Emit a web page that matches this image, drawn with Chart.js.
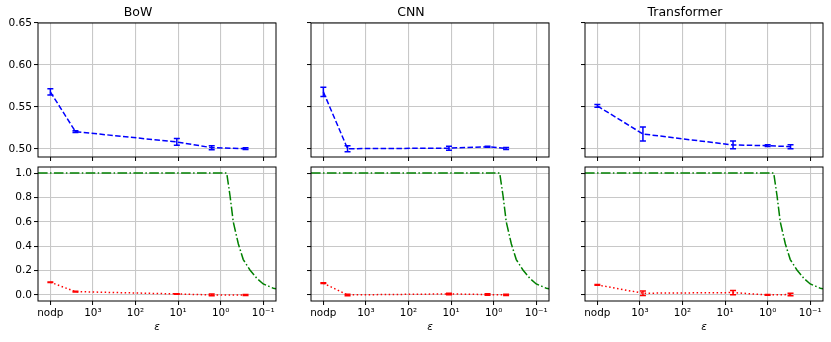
<!DOCTYPE html>
<html lang="en">
<head>
<meta charset="UTF-8">
<title>Accuracy and leakage vs epsilon</title>
<script src="https://cdn.jsdelivr.net/npm/chart.js"></script>
<style>
  body { margin: 0; background: #fff; }
  #fig { position: relative; width: 831px; height: 342px; overflow: hidden; }
  #fig canvas { position: absolute; }
</style>
</head>
<body>
<div id="fig"></div>
<script>
const models = ['BoW', 'CNN', 'Transformer'];
const NODP = 1e4; // the no-DP run sits one decade left of 10^3

const epsTicks = [1e4, 1e3, 1e2, 1e1, 1e0, 1e-1];
const epsTickLabels = ['nodp', '10³', '10²', '10¹', '10⁰', '10⁻¹'];
const accTicks = [0.50, 0.55, 0.60, 0.65];
const leakTicks = [0, 0.2, 0.4, 0.6, 0.8, 1.0];

const bowEps = [NODP, 2570, 10.7, 1.62, 0.26];
const bowAcc = [0.568, 0.5207, 0.5084, 0.5016, 0.5004];
const bowAccErr = [0.0036, 0.001, 0.004, 0.0024, 0.001];
const bowLeak = [0.104, 0.027, 0.008, 0.0, 0.0];
const bowLeakErr = [0.002, 0.003, 0.002, 0.007, 0.004];

const cnnEps = [NODP, 2700, 11.2, 1.39, 0.51];
const cnnAcc = [0.568, 0.5004, 0.501, 0.5027, 0.5006];
const cnnAccErr = [0.0056, 0.0036, 0.0024, 0.0005, 0.0012];
const cnnLeak = [0.096, 0.0, 0.008, 0.003, 0.0];
const cnnLeakErr = [0.003, 0.006, 0.006, 0.006, 0.005];

const trfEps = [NODP, 850, 6.5, 1.0, 0.29];
const trfAcc = [0.5513, 0.5179, 0.5048, 0.504, 0.5028];
const trfAccErr = [0.0016, 0.0084, 0.0046, 0.001, 0.0024];
const trfLeak = [0.082, 0.014, 0.019, 0.0, 0.003];
const trfLeakErr = [0.003, 0.019, 0.017, 0.003, 0.01];

// green bound curve, same in every panel
const boundEps = [19500, 0.72, 0.6, 0.506, 0.385, 0.294, 0.205, 0.142, 0.1, 0.058, 0.05];
const boundVal = [1, 1, 0.81, 0.60, 0.42, 0.29, 0.205, 0.137, 0.09, 0.055, 0.05];

const runs = [
  { eps: bowEps, acc: bowAcc, accErr: bowAccErr, leak: bowLeak, leakErr: bowLeakErr },
  { eps: cnnEps, acc: cnnAcc, accErr: cnnAccErr, leak: cnnLeak, leakErr: cnnLeakErr },
  { eps: trfEps, acc: trfAcc, accErr: trfAccErr, leak: trfLeak, leakErr: trfLeakErr }
];

Chart.defaults.font.family = "'DejaVu Sans', sans-serif";
Chart.defaults.color = '#000';

const colLeft = [38, 311, 585];
const plotW = 238;
const rowTop = [23, 167];
const plotH = 134;
const padL = 38, padR = 8;

const pts = (xs, ys) => xs.map((x, i) => ({ x: x, y: ys[i] }));

// error bars drawn through the chart scales
const errorBars = {
  id: 'errorBars',
  afterDatasetsDraw(chart) {
    const { ctx, scales: { x, y } } = chart;
    chart.data.datasets.forEach(ds => {
      if (!ds.errors) return;
      ctx.save();
      ctx.strokeStyle = ds.borderColor;
      ctx.lineWidth = 1.5;
      ctx.setLineDash([]);
      ds.data.forEach((p, i) => {
        const px = x.getPixelForValue(p.x);
        const t = y.getPixelForValue(p.y + ds.errors[i]);
        const b = y.getPixelForValue(p.y - ds.errors[i]);
        ctx.beginPath();
        ctx.moveTo(px, t); ctx.lineTo(px, b);
        ctx.moveTo(px - 3, t); ctx.lineTo(px + 3, t);
        ctx.moveTo(px - 3, b); ctx.lineTo(px + 3, b);
        ctx.stroke();
      });
      ctx.restore();
    });
  }
};

const frame = {
  id: 'frame',
  afterDraw(chart) {
    const { ctx, chartArea: a } = chart;
    ctx.save();
    ctx.strokeStyle = '#000';
    ctx.lineWidth = 1;
    ctx.strokeRect(a.left, a.top, a.right - a.left, a.bottom - a.top);
    ctx.restore();
  }
};

function makePanel(col, row) {
  const top = row === 0;
  const padT = top ? 23 : 10;
  const padB = top ? 10 : 40;
  const cv = document.createElement('canvas');
  const w = padL + plotW + padR, h = padT + plotH + padB;
  cv.width = w; cv.height = h;
  cv.style.left = (colLeft[col] - padL) + 'px';
  cv.style.top = (rowTop[row] - padT) + 'px';
  cv.style.width = w + 'px'; cv.style.height = h + 'px';
  document.getElementById('fig').appendChild(cv);

  const r = runs[col];
  const datasets = top ? [{
    data: pts(r.eps, r.acc), errors: r.accErr,
    borderColor: '#0000ff', borderWidth: 1.5, borderDash: [5.5, 2.4]
  }] : [{
    data: pts(r.eps, r.leak), errors: r.leakErr,
    borderColor: '#ff0000', borderWidth: 1.5, borderDash: [1.5, 2.5]
  }, {
    data: pts(boundEps, boundVal),
    borderColor: '#008000', borderWidth: 1.5, borderDash: [9.6, 2.4, 1.5, 2.4]
  }];
  datasets.forEach(d => { d.pointRadius = 0; d.fill = false; d.tension = 0; });

  const grid = { color: '#c8c8c8', lineWidth: 1.1, tickColor: '#000', tickWidth: 1, tickLength: 4 };
  const yTicks = top ? accTicks : leakTicks;

  new Chart(cv, {
    type: 'line',
    data: { datasets: datasets },
    options: {
      responsive: false,
      animation: false,
      devicePixelRatio: 1,
      layout: { padding: { top: top ? 0 : padT, right: padR, left: 0, bottom: 0 } },
      plugins: {
        legend: { display: false },
        tooltip: { enabled: false },
        title: {
          display: top, text: models[col], color: '#000',
          font: { size: 12.5, weight: 'normal' }, padding: { top: 5, bottom: 3 }
        }
      },
      scales: {
        x: {
          type: 'logarithmic', reverse: true, min: 0.0501, max: 19500,
          border: { display: false },
          grid: grid,
          afterBuildTicks: s => { s.ticks = epsTicks.map(v => ({ value: v })); },
          afterFit: s => { s.height = padB; },
          ticks: {
            display: !top, autoSkip: false, maxRotation: 0, padding: 2,
            font: { size: 10.4 },
            callback: v => epsTickLabels[epsTicks.indexOf(v)]
          },
          title: {
            display: !top, text: 'ε',
            font: { size: 10.4, style: 'italic' }, padding: { top: 0, bottom: 7 }
          }
        },
        y: {
          min: top ? 0.4905 : -0.05, max: top ? 0.65 : 1.05,
          border: { display: false },
          grid: grid,
          afterBuildTicks: s => { s.ticks = yTicks.map(v => ({ value: v })); },
          afterFit: s => { s.width = padL; },
          ticks: {
            display: col === 0, padding: 2,
            font: { size: 10.6 },
            callback: v => top ? v.toFixed(2) : v.toFixed(1)
          }
        }
      }
    },
    plugins: [errorBars, frame]
  });
}

for (let row = 0; row < 2; row++) {
  for (let col = 0; col < 3; col++) makePanel(col, row);
}
</script>
</body>
</html>
